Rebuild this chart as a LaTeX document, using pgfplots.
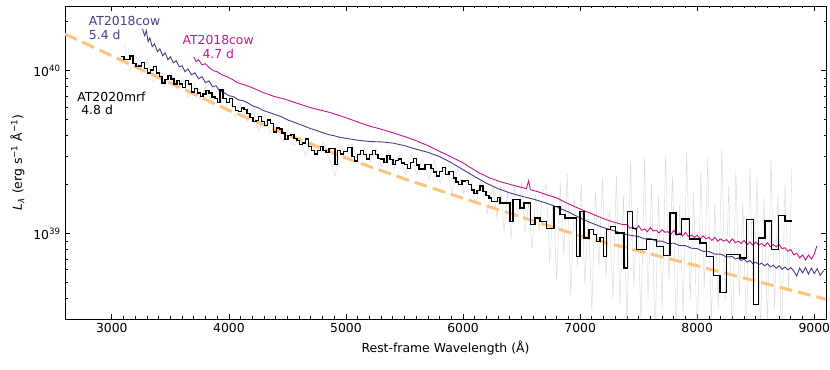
\documentclass[border=0pt]{standalone}
\usepackage{fontspec}
\setmainfont{DejaVu Sans}
\usepackage{pgfplots}
\pgfplotsset{compat=1.18}

\definecolor{cowblue}{HTML}{483D8B}
\definecolor{cowmag}{HTML}{C71585}
\definecolor{bbody}{HTML}{FCC47E}
\definecolor{rawgrey}{HTML}{DADADA}

\begin{document}
\fontsize{12.4}{14.5}\selectfont
\begin{tikzpicture}
\begin{axis}[
  scale only axis,
  width=761pt, height=313pt,
  xmin=2600, xmax=9100,
  ymode=log, ymin=3e38, ymax=2.5e40,
  xtick={3000,4000,...,9000},
  minor x tick num=9,
  ytick={1e39,1e40},
  yticklabels={10\textsuperscript{39},10\textsuperscript{40}},
  minor ytick={3e38,4e38,5e38,6e38,7e38,8e38,9e38,2e39,3e39,4e39,5e39,6e39,7e39,8e39,9e39,2e40},
  tick align=inside, xtick pos=both, ytick pos=both,
  major tick length=5pt, minor tick length=2.5pt,
  every tick/.style={black, line width=0.8pt},
  axis line style={line width=0.8pt},
  /pgf/number format/assume math mode=true,
  /pgf/number format/1000 sep={},
  xlabel={Rest-frame Wavelength (Å)},
  ylabel={\textit{L}\textsubscript{\textit{λ}} (erg s\textsuperscript{−1} Å\textsuperscript{−1})},
  ylabel shift=0.5pt,
]
% unbinned AT2020mrf spectrum
\addplot[rawgrey, line width=0.45pt] coordinates {
(3105,14.7e39) (3155,9.86e39) (3205,12.3e39) (3255,9.54e39) (3305,11.7e39)
(3355,8.54e39) (3405,10.2e39) (3455,8.06e39) (3505,9.68e39) (3555,7.76e39)
(3605,8.87e39) (3655,6.87e39) (3705,8.33e39) (3755,6.69e39) (3805,8.05e39)
(3855,6.16e39) (3905,7.92e39) (3955,5.81e39) (4005,6.69e39) (4055,5.19e39)
(4105,6.29e39) (4155,4.86e39) (4205,5.69e39) (4255,4.25e39) (4305,5.38e39)
(4355,4.13e39) (4405,4.73e39) (4455,3.65e39) (4505,4.42e39) (4555,3.49e39)
(4605,3.91e39) (4655,3.0e39) (4705,3.70e39) (4755,3.0e39) (4805,3.64e39)
(4855,2.90e39) (4905,2.24e39) (4955,3.52e39) (5005,2.88e39) (5055,3.56e39)
(5105,2.72e39) (5155,3.36e39) (5205,2.75e39) (5255,3.33e39) (5305,2.57e39)
(5355,3.25e39) (5405,2.47e39) (5455,3.03e39) (5505,2.32e39) (5555,3.08e39)
(5605,2.32e39) (5655,2.88e39) (5705,2.15e39) (5755,2.82e39) (5805,2.04e39)
(5855,2.63e39) (5905,1.78e39) (5955,2.54e39) (6005,1.77e39) (6055,2.38e39)
(6105,1.50e39) (6155,2.11e39) (6205,1.33e39) (6255,1.98e39) (6290,1.25e39)
(6320,1.98e39) (6350,1.03e39) (6380,1.79e39) (6410,0.93e39) (6440,1.99e39)
(6470,1.20e39) (6500,2.10e39) (6530,1.02e39) (6560,1.53e39) (6590,0.80e39)
(6620,1.73e39) (6650,1.04e39) (6680,1.79e39) (6710,2.03e39) (6740,0.65e39)
(6770,1.61e39) (6800,0.51e39) (6830,2.06e39) (6860,0.75e39) (6890,2.31e39)
(6920,0.42e39) (6950,1.68e39) (6980,0.62e39) (7010,2.04e39) (7040,0.49e39)
(7070,1.31e39) (7100,0.34e39) (7130,1.83e39) (7160,0.63e39) (7190,2.21e39)
(7220,0.54e39) (7250,1.42e39) (7280,0.40e39) (7310,2.28e39) (7340,0.363e39)
(7370,1.71e39) (7400,0.27e39) (7430,2.77e39) (7460,0.47e39) (7490,1.45e39)
(7520,0.283e39) (7550,2.91e39) (7580,0.40e39) (7610,2.02e39) (7640,0.225e39)
(7670,1.74e39) (7700,0.341e39) (7730,3.04e39) (7760,0.518e39) (7790,2.28e39)
(7820,0.236e39) (7850,1.48e39) (7880,0.312e39) (7910,3.21e39) (7940,0.385e39)
(7970,1.81e39) (8000,0.188e39) (8030,2.39e39) (8060,0.469e39) (8090,2.92e39)
(8120,0.283e39) (8150,1.53e39) (8180,0.347e39) (8210,3.30e39) (8240,0.395e39)
(8270,1.99e39) (8300,0.207e39) (8330,2.44e39) (8360,0.412e39) (8390,1.58e39)
(8420,0.233e39) (8450,2.57e39) (8480,0.355e39) (8510,2.21e39) (8540,0.245e39)
(8570,1.66e39) (8600,0.282e39) (8630,2.90e39) (8660,0.348e39) (8690,1.75e39)
(8720,0.21e39) (8750,2.01e39) (8780,0.456e39) (8810,2.66e39)
};
% blackbody fit
\addplot[bbody, line width=3pt, dash pattern=on 13pt off 6pt] coordinates {
(2600,16.82e39) (3000,12.36e39) (3500,8.40e39) (4000,5.72e39) (4500,4.06e39)
(5000,2.91e39) (5500,2.17e39) (6000,1.65e39) (6500,1.265e39) (7000,0.968e39)
(7500,0.784e39) (8000,0.635e39) (8500,0.512e39) (9000,0.414e39) (9100,0.396e39)
};
% AT2018cow 5.4 d
\addplot[cowblue, line width=0.9pt] coordinates {
(3262,18.1e39) (3280,16.4e39) (3295,17.6e39) (3310,15.07e39) (3325,15.9e39)
(3345,14.04e39) (3365,14.64e39) (3390,13.08e39) (3410,13.65e39) (3435,12.36e39)
(3455,12.9e39) (3480,11.68e39) (3500,12.19e39) (3525,11.2e39) (3550,11.52e39)
(3575,10.58e39) (3600,10.73e39) (3625,9.86e39) (3650,10.29e39) (3680,9.45e39)
(3710,9.72e39) (3740,8.93e39) (3770,9.19e39) (3800,8.44e39) (3830,8.68e39)
(3860,7.98e39) (3890,8.09e39) (3920,7.54e39) (3960,7.33e39) (4000,7.03e39)
(4040,6.93e39) (4080,6.64e39) (4120,6.55e39) (4160,6.36e39) (4200,6.10e39)
(4250,5.93e39) (4300,5.68e39) (4350,5.53e39) (4400,5.37e39) (4450,5.22e39)
(4500,5.0e39) (4550,4.85e39) (4600,4.70e39) (4650,4.56e39) (4700,4.41e39)
(4750,4.3e39) (4800,4.17e39) (4850,4.06e39) (4900,3.99e39) (4950,3.9e39)
(5000,3.85e39) (5100,3.75e39) (5200,3.68e39) (5300,3.66e39) (5400,3.60e39)
(5500,3.47e39) (5600,3.30e39) (5700,3.16e39) (5800,2.97e39) (5900,2.73e39)
(6000,2.47e39) (6100,2.24e39) (6200,2.04e39) (6300,1.89e39) (6400,1.78e39)
(6500,1.70e39) (6600,1.63e39) (6700,1.55e39) (6800,1.46e39) (6900,1.36e39)
(7000,1.25e39) (7100,1.16e39) (7200,1.09e39) (7300,1.036e39) (7400,0.986e39)
(7500,0.96e39) (7550,0.93e39) (7600,0.935e39) (7650,0.9e39) (7700,0.9e39)
(7750,0.87e39) (7800,0.875e39) (7850,0.845e39) (7900,0.845e39) (7950,0.815e39)
(8000,0.81e39) (8050,0.78e39) (8100,0.777e39) (8150,0.75e39) (8200,0.75e39)
(8250,0.72e39) (8300,0.725e39) (8325,0.70e39) (8350,0.71e39) (8375,0.685e39)
(8400,0.70e39) (8425,0.67e39) (8450,0.685e39) (8475,0.655e39) (8500,0.67e39)
(8525,0.645e39) (8550,0.66e39) (8575,0.635e39) (8600,0.655e39) (8625,0.625e39)
(8650,0.64e39) (8675,0.615e39) (8700,0.635e39) (8725,0.605e39) (8750,0.625e39)
(8775,0.60e39) (8800,0.62e39) (8825,0.59e39) (8850,0.55e39) (8875,0.615e39)
(8900,0.575e39) (8925,0.62e39) (8950,0.565e39) (8975,0.615e39) (9000,0.57e39)
(9025,0.61e39) (9050,0.555e39) (9080,0.595e39)
};
% AT2018cow 4.7 d
\addplot[cowmag, line width=0.9pt] coordinates {
(3701,12.13e39) (3720,11.36e39) (3740,11.68e39) (3770,10.88e39) (3800,11.04e39)
(3835,10.39e39) (3870,10.0e39) (3900,9.86e39) (3940,9.45e39) (3978,9.23e39)
(4020,8.93e39) (4074,8.44e39) (4130,8.21e39) (4200,7.87e39) (4291,7.36e39)
(4380,6.98e39) (4480,6.69e39) (4576,6.34e39) (4700,5.93e39) (4861,5.55e39)
(5000,5.15e39) (5100,4.85e39) (5200,4.58e39) (5300,4.38e39) (5400,4.16e39)
(5500,3.95e39) (5600,3.72e39) (5700,3.47e39) (5800,3.2e39) (5900,2.96e39)
(6000,2.72e39) (6050,2.58e39) (6130,2.38e39) (6220,2.21e39)
(6313,2.09e39) (6400,2.01e39) (6480,1.94e39) (6540,1.89e39) (6560,2.11e39)
(6575,1.86e39) (6640,1.81e39) (6720,1.73e39) (6798,1.66e39) (6880,1.55e39)
(6960,1.46e39) (7040,1.38e39) (7083,1.34e39) (7160,1.27e39) (7250,1.20e39)
(7367,1.136e39) (7400,1.14e39) (7425,1.08e39) (7450,1.10e39) (7475,1.06e39)
(7500,1.12e39) (7525,1.05e39) (7550,1.07e39) (7575,1.03e39) (7600,1.09e39)
(7625,1.04e39) (7650,1.05e39) (7675,1.01e39) (7700,1.06e39) (7725,1.02e39)
(7750,1.03e39) (7775,0.99e39) (7800,1.05e39) (7825,0.98e39) (7850,1.01e39)
(7875,0.97e39) (7900,1.02e39) (7925,0.96e39) (7950,0.98e39) (7975,0.95e39)
(8000,0.98e39) (8025,0.93e39) (8050,0.97e39) (8075,0.93e39) (8100,0.95e39)
(8125,0.91e39) (8150,0.95e39) (8175,0.90e39) (8200,0.93e39) (8225,0.90e39)
(8250,0.92e39) (8275,0.88e39) (8300,0.93e39) (8325,0.88e39) (8350,0.90e39)
(8375,0.87e39) (8400,0.91e39) (8425,0.86e39) (8450,0.89e39) (8475,0.85e39)
(8500,0.89e39) (8525,0.85e39) (8550,0.87e39) (8575,0.84e39) (8600,0.88e39)
(8625,0.83e39) (8650,0.86e39) (8675,0.83e39) (8700,0.86e39) (8725,0.81e39)
(8750,0.82e39) (8775,0.78e39) (8800,0.80e39) (8825,0.74e39) (8850,0.76e39)
(8875,0.71e39) (8900,0.74e39) (8925,0.69e39) (8950,0.74e39) (8975,0.70e39)
(9000,0.75e39) (9021,0.84e39)
};
% AT2020mrf 4.8 d, binned
\addplot[black, line width=1.4pt, const plot] coordinates {
(3080,12.2e39) (3105,11.7e39) (3130,11.7e39) (3155,12.3e39) (3180,11.1e39)
(3205,10.6e39) (3230,10.7e39) (3255,11.2e39) (3280,10.3e39) (3305,9.7e39)
(3330,10.1e39) (3355,10.6e39) (3380,9.7e39) (3405,9.2e39) (3430,8.4e39)
(3455,8.85e39) (3480,9.35e39) (3505,8.9e39) (3530,8.3e39) (3555,8.75e39)
(3580,8.3e39) (3605,7.9e39) (3630,8.75e39) (3655,8.3e39) (3680,7.4e39)
(3705,7.8e39) (3730,7.3e39) (3755,6.95e39) (3780,7.2e39) (3805,7.55e39)
(3830,7.3e39) (3855,6.9e39) (3880,6.75e39) (3902,6.4e39) (3925,7.64e39)
(3950,6.75e39) (3980,6.4e39) (4005,6.75e39) (4030,6.05e39) (4055,5.7e39)
(4080,5.6e39) (4105,5.9e39) (4130,5.8e39) (4155,5.45e39) (4180,5.15e39)
(4205,4.9e39) (4230,4.95e39) (4255,5.25e39) (4280,4.88e39) (4305,4.6e39)
(4330,5.0e39) (4355,4.75e39) (4380,4.2e39) (4405,4.45e39) (4430,4.38e39)
(4455,4.15e39) (4480,3.78e39) (4505,4.0e39) (4530,4.08e39) (4555,3.85e39)
(4580,3.72e39) (4605,3.52e39) (4630,3.6e39) (4655,3.82e39) (4680,3.44e39)
(4705,3.25e39) (4730,3.08e39) (4755,3.25e39) (4780,3.43e39) (4805,3.23e39)
(4830,3.15e39) (4855,3.32e39) (4880,3.33e39) (4905,2.65e39) (4930,3.25e39)
(4955,3.08e39) (4980,3.2e39) (5015,3.38e39) (5050,2.98e39) (5075,2.8e39)
(5100,3.05e39) (5125,3.23e39) (5150,3.05e39) (5175,2.88e39) (5200,3.06e39)
(5225,3.24e39) (5250,3.07e39) (5275,2.9e39) (5300,2.88e39) (5325,2.73e39)
(5350,3.02e39) (5375,2.85e39) (5400,2.66e39) (5425,2.82e39) (5450,2.88e39)
(5475,2.72e39) (5500,2.66e39) (5525,2.51e39) (5550,2.74e39) (5575,2.9e39)
(5600,2.64e39) (5625,2.49e39) (5650,2.5e39) (5675,2.65e39) (5700,2.66e39)
(5725,2.51e39) (5750,2.39e39) (5775,2.26e39) (5800,2.41e39) (5825,2.55e39)
(5850,2.3e39) (5880,2.41e39) (5920,2.2e39) (5940,2.08e39) (5960,2.0e39)
(5990,2.11e39) (6020,2.12e39) (6045,2.0e39) (6070,1.86e39) (6095,1.76e39)
(6120,1.84e39) (6145,1.96e39) (6170,1.81e39) (6195,1.71e39) (6220,1.66e39)
(6245,1.57e39) (6270,1.57e39) (6292,1.67e39) (6314,1.544e39) (6400,1.19e39)
(6428,1.617e39) (6485,1.44e39) (6520,1.544e39) (6578,1.136e39) (6613,1.248e39)
(6656,1.19e39) (6713,1.08e39) (6777,1.47e39) (6827,1.308e39) (6870,1.248e39)
(6970,0.726e39) (6998,1.37e39) (7033,0.94e39) (7076,1.058e39) (7112,0.986e39)
(7140,0.897e39) (7169,0.95e39) (7197,0.726e39) (7226,1.058e39) (7261,1.11e39)
(7304,1.01e39) (7375,0.616e39) (7404,1.37e39) (7447,1.08e39) (7482,0.798e39)
(7568,0.919e39) (7653,0.836e39) (7710,0.733e39) (7767,1.34e39) (7818,0.986e39)
(7867,1.23e39) (7932,0.927e39) (8023,0.877e39) (8080,0.726e39) (8137,0.553e39)
(8194,0.437e39) (8251,0.743e39) (8365,0.71e39) (8422,1.22e39) (8479,0.367e39)
(8522,0.94e39) (8579,1.2e39) (8636,0.798e39) (8693,1.29e39) (8750,1.2e39)
(8807,1.2e39)
};
\node[anchor=base west, inner sep=0pt, text=cowblue] at (axis cs:2803,18.88e39) {AT2018cow};
\node[anchor=base west, inner sep=0pt, text=cowblue] at (axis cs:2803,15.65e39) {5.4 d};
\node[anchor=base west, inner sep=0pt, text=cowmag] at (axis cs:3602,14.58e39) {AT2018cow};
\node[anchor=base west, inner sep=0pt, text=cowmag] at (axis cs:3773,11.96e39) {4.7 d};
\node[anchor=base west, inner sep=0pt, text=black] at (axis cs:2704,6.45e39) {AT2020mrf};
\node[anchor=base west, inner sep=0pt, text=black] at (axis cs:2738,5.37e39) {4.8 d};
\end{axis}
\pgfresetboundingbox
\path ([shift={(-65pt,-50pt)}]current axis.south west) rectangle ([shift={(4pt,6pt)}]current axis.north east);
\end{tikzpicture}
\end{document}
